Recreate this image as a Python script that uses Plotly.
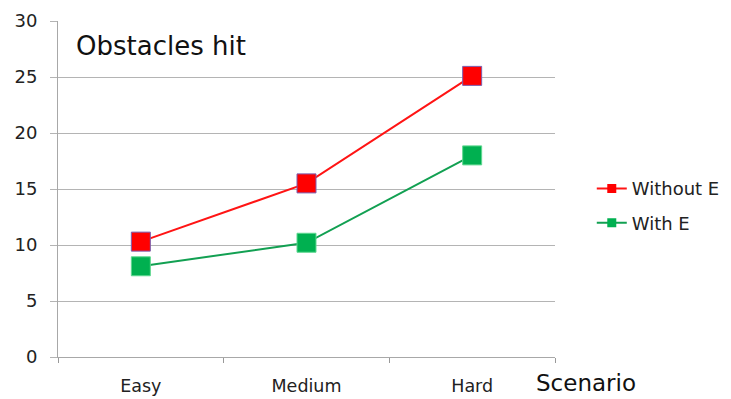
import plotly.graph_objects as go

# Scenario categories and obstacle-hit counts per condition
scenarios = ["Easy", "Medium", "Hard"]
without_e = [10.3, 15.5, 25.1]
with_e = [8.1, 10.2, 18.0]

y_ticks = [0, 5, 10, 15, 20, 25, 30]

FONT = "DejaVu Sans"
GRID = "#b4b4b4"

fig = go.Figure()

series = [
    ("Without E", without_e, "#ff1414", "#ff0000", "#7a5fb0"),
    ("With E", with_e, "#12a052", "#00b050", "#5fd890"),
]

for name, vals, line_col, mk_col, mk_edge in series:
    # data trace (legend entry drawn separately with a smaller marker)
    fig.add_trace(go.Scatter(
        x=scenarios, y=vals, mode="lines+markers", name=name,
        showlegend=False,
        line=dict(color=line_col, width=2),
        marker=dict(symbol="square", size=19, color=mk_col,
                    line=dict(color=mk_edge, width=1)),
    ))

for name, vals, line_col, mk_col, mk_edge in series:
    fig.add_trace(go.Scatter(
        x=[None], y=[None], mode="lines+markers", name=name,
        legendgroup=name,
        line=dict(color=line_col, width=2),
        marker=dict(symbol="square", size=9, color=mk_col,
                    line=dict(color=mk_col, width=0)),
    ))

fig.update_layout(
    width=731, height=399,
    margin=dict(l=58, r=176, t=21, b=42, autoexpand=False),
    paper_bgcolor="white", plot_bgcolor="white",
    font=dict(family=FONT, color="#222222"),
    xaxis=dict(
        type="category", categoryorder="array", categoryarray=scenarios,
        range=[-0.5, 2.5], automargin=False,
        tickson="boundaries", ticks="outside", ticklen=5,
        tickcolor="#999999", tickwidth=1,
        showline=True, linecolor="#a8a8a8", linewidth=1,
        showgrid=False, zeroline=False,
        tickfont=dict(family=FONT, size=17.5, color="#222222"),
        ticklabelstandoff=13,
    ),
    yaxis=dict(
        range=[0, 30], tickvals=y_ticks, automargin=False,
        ticks="outside", ticklen=7, tickcolor=GRID, tickwidth=1,
        showline=True, linecolor="#a8a8a8", linewidth=1,
        showgrid=True, gridcolor=GRID, gridwidth=1,
        zeroline=False,
        tickfont=dict(family=FONT, size=18, color="#222222"),
        ticklabelstandoff=9,
    ),
    legend=dict(
        x=1.074, xanchor="left", y=0.556, yanchor="top",
        font=dict(family=FONT, size=18, color="#222222"),
        traceorder="grouped", tracegroupgap=8,
        bgcolor="rgba(0,0,0,0)",
    ),
    annotations=[
        dict(text="Obstacles hit", xref="paper", yref="paper",
             x=0.033, y=0.926, xanchor="left", yanchor="middle",
             showarrow=False, font=dict(family=FONT, size=26, color="#111111")),
        dict(text="Scenario", xref="paper", yref="paper",
             x=1.062, y=-0.122, xanchor="center", yanchor="bottom",
             showarrow=False, font=dict(family=FONT, size=23, color="#111111")),
    ],
)

fig.write_html("out.html")
